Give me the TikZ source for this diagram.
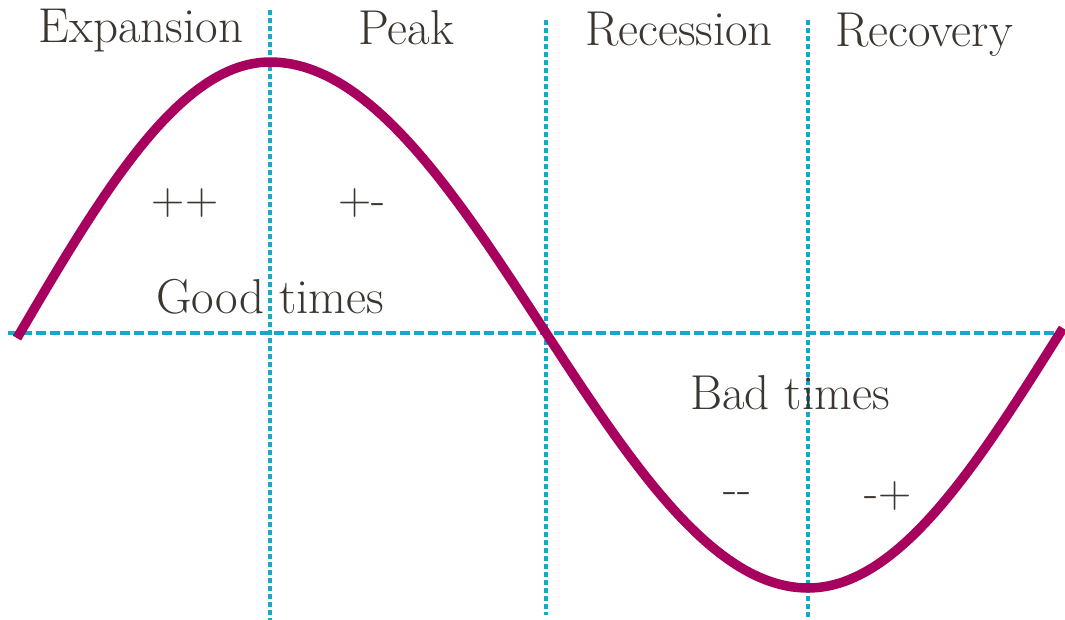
\documentclass[tikz,border=0pt]{standalone}
\usepackage{tikz}
\usetikzlibrary{positioning,calc}
\definecolor{ink}{HTML}{3C3630}
\definecolor{wave}{HTML}{A8005F}
\definecolor{cyan}{HTML}{1AA6C8}

\begin{document}
\begin{tikzpicture}[x=1pt,y=-1pt,
      lbl/.style={ink,font=\fontsize{49}{56}\selectfont,anchor=base},
      sgn/.style={ink,font=\fontsize{46}{52}\selectfont},
      axis/.style={cyan,line width=3.6pt,dash pattern=on 10pt off 4pt},
      vline/.style={cyan,line width=3.6pt,dash pattern=on 5pt off 3pt},
      curve/.style={wave,line width=9.5pt,line cap=butt,line join=round}]
    \useasboundingbox (0,0) rectangle (1065,620);
    % grid lines
    \coordinate (ax0) at (8,333); \coordinate (ax1) at (1063,333);
    \draw[axis] (ax0) -- (ax1);
    \coordinate (p0) at (270,10);  \coordinate (p1) at (270,620);
    \coordinate (r0) at (546,20);  \coordinate (r1) at (546,615);
    \coordinate (t0) at (808,20);  \coordinate (t1) at (808,620);
    \draw[vline] (p0) -- (p1) (r0) -- (r1) (t0) -- (t1);
    % the cycle, one quarter at a time
    \draw[curve] plot[domain=17:270,samples=50]
        (\x,{333-271*sin((\x-20)/250*90)})
      -- plot[domain=270:546,samples=50]
        (\x,{333-271*cos((\x-270)/276*90)})
      -- plot[domain=546:808,samples=50]
        (\x,{333+255*sin((\x-546)/262*90)})
      -- plot[domain=808:1063,samples=50]
        (\x,{333+255*cos((\x-808)/252*90)});
    % phases
    \node[lbl] (exp) at (141,43) {Expansion};
    \node[lbl] (peak) at (406,45) {Peak};
    \node[lbl] (rec) at (679,46) {Recession};
    \node[lbl] (recov) at (924,47) {Recovery};
    \node[sgn] (pp) at (185,203) {++};
    \node[sgn] (pm) at (362,203) {+-};
    \node[lbl] (good) at (270,313) {Good times};
    \node[lbl] (bad) at (790,409) {Bad times};
    \node[sgn] (mm) at (737,498) {-{}-};
    \node[sgn] (mp) at (888,496) {-+};
  \end{tikzpicture}
\end{document}
